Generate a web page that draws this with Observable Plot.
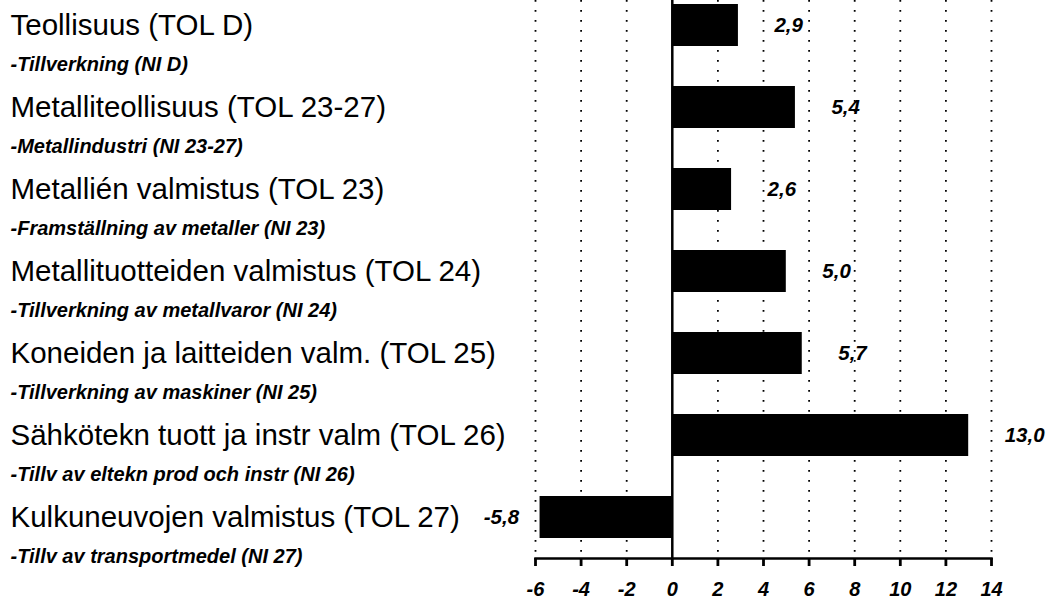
<!DOCTYPE html>
<html>
<head>
<meta charset="utf-8">
<script src="https://cdn.jsdelivr.net/npm/d3@7"></script>
<script src="https://cdn.jsdelivr.net/npm/@observablehq/plot@0.6"></script>
<style>
  html, body { margin: 0; padding: 0; background: #fff; }
  #chart svg { display: block; font-family: "Liberation Sans", Arial, Helvetica, sans-serif; }
</style>
</head>
<body>
<div id="chart"></div>
<script>
const labelsFi = [
  "Teollisuus (TOL D)",
  "Metalliteollisuus (TOL 23-27)",
  "Metallién valmistus (TOL 23)",
  "Metallituotteiden valmistus (TOL 24)",
  "Koneiden ja laitteiden valm. (TOL 25)",
  "Sähkötekn tuott ja instr valm (TOL 26)",
  "Kulkuneuvojen valmistus (TOL 27)"
];
const labelsSv = [
  "-Tillverkning (NI D)",
  "-Metallindustri (NI 23-27)",
  "-Framställning av metaller (NI 23)",
  "-Tillverkning av metallvaror (NI 24)",
  "-Tillverkning av maskiner (NI 25)",
  "-Tillv av eltekn prod och instr (NI 26)",
  "-Tillv av transportmedel (NI 27)"
];
const values = [2.9, 5.4, 2.6, 5.0, 5.7, 13.0, -5.8];
const xTicks = [-6, -4, -2, 0, 2, 4, 6, 8, 10, 12, 14];

const rows = labelsFi.map((fi, i) => ({fi, sv: labelsSv[i], value: values[i]}));
const fmt = v => d3.format(".1f")(v).replace(".", ",").replace("−", "-");

const chart = Plot.plot({
  width: 1052,
  height: 598,
  marginLeft: 535,
  marginRight: 61,
  marginTop: 0,
  marginBottom: 40,
  style: {fontFamily: '"Liberation Sans", Arial, Helvetica, sans-serif', background: "#fff", color: "#000", overflow: "visible"},
  x: {domain: [-6, 14]},
  y: {domain: labelsFi, range: [-16.5, 557.5], paddingInner: 0.49, paddingOuter: 0.245, axis: null},
  marks: [
    Plot.ruleX(xTicks.filter(d => d !== 0), {stroke: "#000", strokeWidth: 1.8, strokeDasharray: "1.8,8.2"}),
    Plot.barX(rows, {y: "fi", x: "value", fill: "#000"}),
    Plot.ruleX([0], {stroke: "#000", strokeWidth: 2.5}),
    Plot.frame({anchor: "bottom", stroke: "#000", strokeWidth: 2.5}),
    Plot.axisX({
      ticks: xTicks,
      tickSize: 8,
      tickPadding: 15,
      strokeWidth: 2.8,
      tickFormat: d => String(d),
      fontSize: 20,
      fontWeight: "bold",
      fontStyle: "italic",
      label: null
    }),
    Plot.text(rows.filter(d => d.value >= 0), {
      y: "fi", x: "value", text: d => fmt(d.value),
      textAnchor: "start", dx: 36, fontSize: 20.5, fontWeight: "bold", fontStyle: "italic", fill: "#000"
    }),
    Plot.text(rows.filter(d => d.value < 0), {
      y: "fi", x: "value", text: d => fmt(d.value),
      textAnchor: "end", dx: -21, fontSize: 20.5, fontWeight: "bold", fontStyle: "italic", fill: "#000"
    }),
    Plot.text(rows, {
      y: "fi", text: "fi", frameAnchor: "left", dx: -525, textAnchor: "start",
      fontSize: 29.5, fill: "#000"
    }),
    Plot.text(rows, {
      y: "fi", text: "sv", frameAnchor: "left", dx: -525, dy: 39, textAnchor: "start",
      fontSize: 20, fontWeight: "bold", fontStyle: "italic", fill: "#000"
    })
  ]
});
document.getElementById("chart").appendChild(chart);
</script>
</body>
</html>
